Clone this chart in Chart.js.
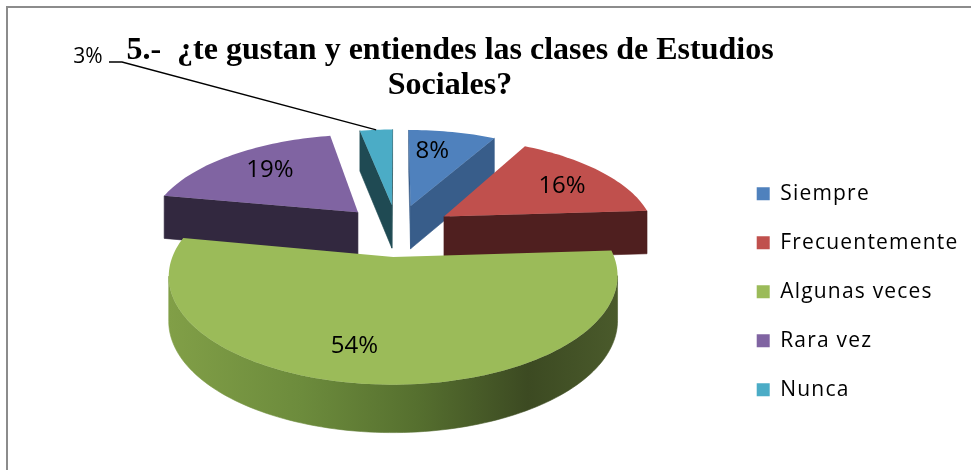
<!DOCTYPE html>
<html>
<head>
<meta charset="utf-8">
<script src="https://cdn.jsdelivr.net/npm/chart.js@4/dist/chart.umd.min.js"></script>
<style>
html,body{margin:0;padding:0;background:#ffffff;}
canvas{display:block;}
</style>
</head>
<body>
<canvas id="c" width="971" height="470"></canvas>
<script>
// ---- data ----
const categories = ['Siempre', 'Frecuentemente', 'Algunas veces', 'Rara vez', 'Nunca'];
const percentages = [8, 16, 54, 19, 3];
const pctLabels = ['8%', '16%', '54%', '19%', '3%'];
const titleLines = ['5.-  \u00bfte gustan y entiendes las clases de Estudios', 'Sociales?'];

// ---- styles ----
const sliceColors = ['#4F81BD', '#C0504D', '#9BBB59', '#8064A2', '#4BACC6'];
const wallColors  = ['#385D8A', '#4F1F1F', '#56702F', '#32283F', '#1F4A53'];
const legendLetterSpacing = '1.2px';

const pie3d = {
  id: 'pie3d',
  beforeUpdate(chart) {
    const lg = chart.legend;
    if (lg && !lg.$ls) {
      lg.$ls = true;
      const wrap = fn => function (...a) {
        const c = this.ctx;
        const prev = c.letterSpacing;
        c.letterSpacing = legendLetterSpacing;
        const r = fn.apply(this, a);
        c.letterSpacing = prev || '0px';
        return r;
      };
      lg.fit = wrap(lg.fit);
      lg.draw = wrap(lg.draw);
    }
  },
  beforeDraw(chart) {
    const ctx = chart.ctx;
    ctx.save();
    ctx.strokeStyle = '#8c8c8c';
    ctx.lineWidth = 2;
    ctx.strokeRect(7, 7, 2000, 2000);
    ctx.restore();
  },
  beforeDatasetsDraw(chart, args, o) {
    const ctx = chart.ctx;
    const meta = chart.getDatasetMeta(0);
    const proj = (u, w, h) => {
      const s = 1 / (1 + o.persp * w);
      return { x: o.cx + u * s * o.R, y: o.cy - w * s * o.A + h * Math.pow(s, o.hPow) * o.H };
    };
    const slices = meta.data.map((arc, i) => {
      const t0 = arc.startAngle + Math.PI / 2, t1 = arc.endAngle + Math.PI / 2;
      const mid = (t0 + t1) / 2;
      const eu = o.explode * Math.sin(mid), ew = o.explode * Math.cos(mid);
      const n = Math.max(2, Math.ceil((t1 - t0) / (Math.PI / 120)));
      const pts = [[eu, ew]];
      for (let k = 0; k <= n; k++) {
        const t = t0 + (t1 - t0) * k / n;
        pts.push([eu + Math.sin(t), ew + Math.cos(t)]);
      }
      return { i, t0, t1, mid, eu, ew, n,
        top: pts.map(p => proj(p[0], p[1], 0)),
        bot: pts.map(p => proj(p[0], p[1], 1)) };
    });
    // walls
    slices.forEach(sl => {
      const m = sl.top.length;
      const vis = [];
      for (let k = 0; k < m; k++) {
        const a = sl.top[k], b = sl.top[(k + 1) % m];
        vis.push(b.x - a.x < -0.01);
      }
      const type = k => (k === 0 || k === m - 1) ? 'r' + k : 'a';
      let k = 0;
      while (k < m) {
        if (!vis[k]) { k++; continue; }
        const tp = type(k);
        let e = k;
        while (e + 1 < m && vis[e + 1] && type(e + 1) === tp) e++;
        const idx = [];
        for (let j = k; j <= e + 1; j++) idx.push(j % m);
        ctx.beginPath();
        idx.forEach((j, q) => { const p = sl.top[j]; q ? ctx.lineTo(p.x, p.y) : ctx.moveTo(p.x, p.y); });
        for (let q = idx.length - 1; q >= 0; q--) { const p = sl.bot[idx[q]]; ctx.lineTo(p.x, p.y); }
        ctx.closePath();
        let fill = wallColors[sl.i];
        if (tp === 'a' && o.gradientSlice === sl.i) {
          const xs = sl.top.map(p => p.x);
          const g = ctx.createLinearGradient(Math.min(...xs), 0, Math.max(...xs), 0);
          g.addColorStop(0, '#819F47');
          g.addColorStop(0.3, '#6C8B3C');
          g.addColorStop(0.55, '#56702F');
          g.addColorStop(0.8, '#3C4A22');
          g.addColorStop(1, '#4A5A2B');
          fill = g;
        }
        ctx.fillStyle = fill;
        ctx.strokeStyle = fill;
        ctx.lineWidth = 0.6;
        ctx.fill();
        ctx.stroke();
        k = e + 1;
      }
    });
    // top faces
    slices.forEach(sl => {
      ctx.beginPath();
      sl.top.forEach((p, q) => q ? ctx.lineTo(p.x, p.y) : ctx.moveTo(p.x, p.y));
      ctx.closePath();
      ctx.fillStyle = sliceColors[sl.i];
      ctx.fill();
    });
    chart.$pieLabels = slices.map(sl => {
      const lp = o.labelPos[sl.i];
      if (lp.outside) {
        const rim = proj(sl.eu + Math.sin(sl.mid), sl.ew + Math.cos(sl.mid), 0);
        return { outside: true, rim, x: lp.x, y: lp.y };
      }
      const t = sl.mid + lp.dt * Math.PI / 180;
      return proj(sl.eu + lp.r * Math.sin(t), sl.ew + lp.r * Math.cos(t), 0);
    });
    return false;
  },
  afterDraw(chart, args, o) {
    const ctx = chart.ctx;
    const pts = chart.$pieLabels || [];
    ctx.save();
    ctx.fillStyle = '#000';
    ctx.textAlign = 'center';
    ctx.textBaseline = 'middle';
    pts.forEach((p, i) => {
      if (p.outside) {
        ctx.font = '21px "Open Sans"';
        ctx.fillText(pctLabels[i], p.x, p.y);
        ctx.strokeStyle = '#000';
        ctx.lineWidth = 1.3;
        ctx.beginPath();
        ctx.moveTo(p.x + 21, p.y + 5);
        ctx.lineTo(p.x + 34, p.y + 5);
        ctx.lineTo(p.rim.x, p.rim.y);
        ctx.stroke();
      } else {
        ctx.font = '24px "Open Sans"';
        ctx.fillText(pctLabels[i], p.x, p.y);
      }
    });
    ctx.restore();
  }
};

new Chart(document.getElementById('c'), {
  type: 'pie',
  data: {
    labels: categories,
    datasets: [{
      data: percentages,
      backgroundColor: sliceColors,
      borderWidth: 0
    }]
  },
  options: {
    responsive: false,
    devicePixelRatio: 1,
    animation: false,
    events: [],
    layout: { padding: { left: -68.5, right: 2.5, top: 0, bottom: 0 } },
    plugins: {
      tooltip: { enabled: false },
      title: {
        display: true,
        fullSize: true,
        text: titleLines,
        color: '#000',
        font: { family: '"Liberation Serif", "Times New Roman", serif', size: 32, weight: 'bold', lineHeight: 1.1 },
        padding: { top: 33, bottom: 10 }
      },
      legend: {
        position: 'right',
        fullSize: false,
        labels: {
          color: '#000',
          font: { family: '"Open Sans"', size: 21 },
          boxWidth: 13,
          boxHeight: 13,
          padding: 28
        }
      },
      pie3d: {
        cx: 397, cy: 230, R: 211, A: 96, persp: 0.167, explode: 0.27, H: 43.6, hPow: 0.4,
        gradientSlice: 2,
        labelPos: [
          { r: 0.7, dt: -4 },
          { r: 0.71, dt: 3 },
          { r: 0.75, dt: 8 },
          { r: 0.7, dt: 1.5 },
          { outside: true, x: 88, y: 57 }
        ]
      }
    }
  },
  plugins: [pie3d]
});
</script>
</body>
</html>
